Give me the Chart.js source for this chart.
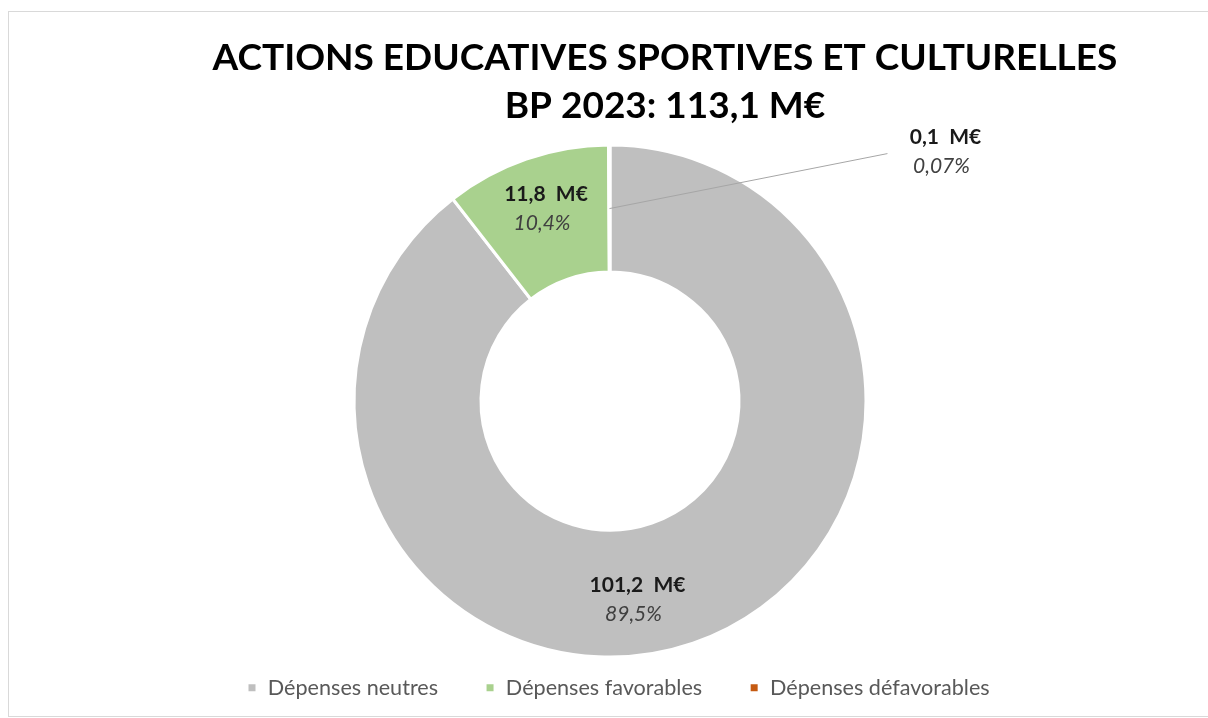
<!DOCTYPE html>
<html><head><meta charset="utf-8">
<script src="https://cdn.jsdelivr.net/npm/chart.js@4.4.0/dist/chart.umd.min.js"></script>
<style>
html,body{margin:0;padding:0;background:#fff;overflow:hidden;width:1208px;height:718px;}
#frame{position:absolute;left:8px;top:11px;width:1200px;height:706px;border-style:solid none solid solid;border-width:1px;border-color:#d9d9d9;box-sizing:border-box;}
#wrap{position:absolute;left:0;top:0;width:1208px;height:718px;}
</style></head><body>
<div id="frame"></div>
<div id="wrap"><canvas id="c" width="1208" height="718"></canvas></div>
<script>
const categories = ['Dépenses neutres', 'Dépenses favorables', 'Dépenses défavorables'];
const values = [101.2, 11.8, 0.1];
const percents = ['89,5%', '10,4%', '0,07%'];
const titleLines = ['ACTIONS EDUCATIVES SPORTIVES ET CULTURELLES', 'BP 2023: 113,1 M€'];
const colors = ['#bfbfbf', '#a9d18e', '#c55a11'];
// label block offsets from each arc's centroid (pixels)
const labelOffsets = [[-35, 17], [-1, -10], [336, -57]];
const leaderTargets = [null, null, [278, -55]];

const fmt = v => v.toFixed(1).replace('.', ',') + '  M€';

const labelPlugin = {
  id: 'sliceLabels',
  afterDatasetsDraw(chart) {
    const ctx = chart.ctx;
    const meta = chart.getDatasetMeta(0);
    meta.data.forEach((arc, i) => {
      const p = arc.getProps(['x', 'y', 'startAngle', 'endAngle', 'innerRadius', 'outerRadius'], true);
      const mid = (p.startAngle + p.endAngle) / 2;
      const r = (p.innerRadius + p.outerRadius) / 2;
      const cx = p.x + Math.cos(mid) * r;
      const cy = p.y + Math.sin(mid) * r;
      const bx = cx + labelOffsets[i][0];
      const by = cy + labelOffsets[i][1];
      ctx.save();
      if (leaderTargets[i]) {
        ctx.strokeStyle = '#a6a6a6';
        ctx.lineWidth = 1;
        ctx.beginPath();
        ctx.moveTo(cx, cy);
        ctx.lineTo(cx + leaderTargets[i][0], cy + leaderTargets[i][1]);
        ctx.stroke();
      }
      ctx.textAlign = 'center';
      ctx.textBaseline = 'middle';
      ctx.fillStyle = '#1a1a1a';
      ctx.font = 'bold 21px Lato';
      ctx.fillText(fmt(values[i]), bx, by - 14.5);
      ctx.fillStyle = '#404040';
      ctx.font = 'italic 21px Lato';
      ctx.fillText(percents[i], bx - 4, by + 14.5);
      ctx.restore();
    });
  }
};

new Chart(document.getElementById('c'), {
  type: 'doughnut',
  data: {
    labels: categories,
    datasets: [{
      data: values,
      backgroundColor: colors,
      borderColor: '#ffffff',
      borderWidth: 3,
      radius: 256,
      cutout: '50.4%'
    }]
  },
  options: {
    responsive: false,
    animation: false,
    devicePixelRatio: 1,
    layout: { padding: { left: 200, right: 78, top: 0, bottom: 10 } },
    plugins: {
      title: {
        display: true,
        text: titleLines,
        color: '#000000',
        font: { family: 'Lato', size: 37, weight: 'bold', lineHeight: 1.3 },
        padding: { top: 34, bottom: 42 }
      },
      subtitle: {
        display: true,
        position: 'right',
        fullSize: false,
        text: '',
        font: { size: 10, lineHeight: 1 },
        padding: { top: 0, bottom: 100 }
      },
      legend: {
        position: 'bottom',
        align: 'start',
        maxHeight: 78,
        labels: {
          boxWidth: 10,
          boxHeight: 10,
          padding: 47,
          color: '#595959',
          font: { family: 'Lato', size: 21.6 }
        }
      },
      tooltip: { enabled: false }
    }
  },
  plugins: [labelPlugin]
});
</script>
</body></html>
